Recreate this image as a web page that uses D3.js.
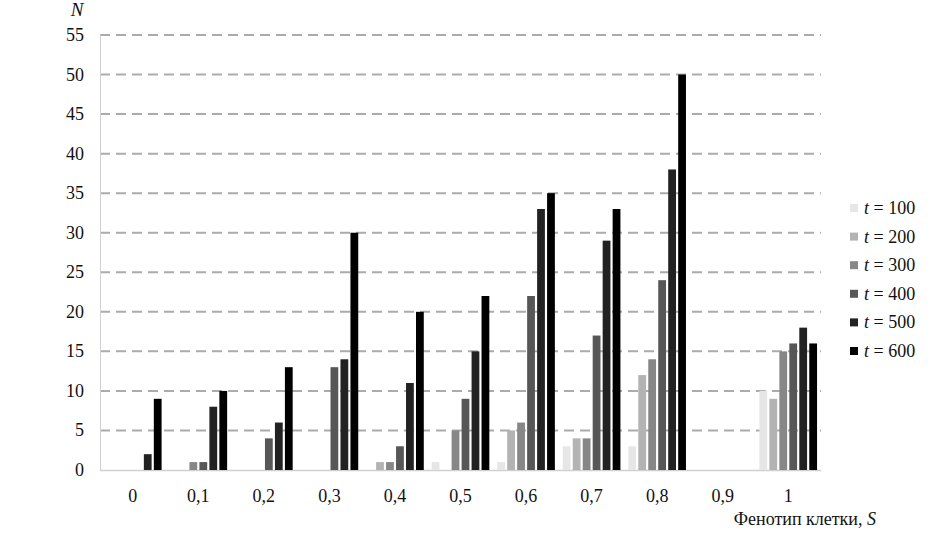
<!DOCTYPE html>
<html><head><meta charset="utf-8">
<script src="https://cdn.jsdelivr.net/npm/d3@7"></script>
</head><body style="margin:0"><svg id="c" width="947" height="536" style="display:block"></svg>
<script>
const categories = ["0","0,1","0,2","0,3","0,4","0,5","0,6","0,7","0,8","0,9","1"];
const seriesNames = ["100","200","300","400","500","600"];
const t100 = [0,0,0,0,0,1,1,3,3,0,10];
const t200 = [0,0,0,0,1,0,5,4,12,0,9];
const t300 = [0,1,0,0,1,5,6,4,14,0,15];
const t400 = [0,1,4,13,3,9,22,17,24,0,16];
const t500 = [2,8,6,14,11,15,33,29,38,0,18];
const t600 = [9,10,13,30,20,22,35,33,50,0,16];
const yTicks = [0,5,10,15,20,25,30,35,40,45,50,55];
const colors = ["#e6e6e6","#b3b3b3","#878787","#575757","#222222","#000000"];
const seriesValues = [t100,t200,t300,t400,t500,t600];
const FONT = "'Liberation Serif'";
const serif = sel => sel.attr("font-family",FONT).style("font-family",FONT,"important");

const svg = d3.select("#c");
serif(svg);
const x0 = d3.scaleBand().domain(categories).range([100,821]).paddingInner(0.09).paddingOuter(0.045);
const x1 = d3.scaleBand().domain(seriesNames).range([0,x0.bandwidth()]).paddingInner(0.22).paddingOuter(0.1);
const y = d3.scaleLinear().domain([0,55]).range([470,35]);

svg.append("g").selectAll("line").data(yTicks.filter(d=>d>0)).join("line")
  .attr("x1",100).attr("x2",821).attr("y1",d=>y(d)).attr("y2",d=>y(d))
  .attr("stroke","#ababab").attr("stroke-width",2).attr("stroke-dasharray","10,6");
svg.append("line").attr("x1",100.5).attr("x2",100.5).attr("y1",y(55)).attr("y2",y(0)).attr("stroke","#d0d0d0").attr("stroke-width",1);
svg.append("line").attr("x1",100).attr("x2",821).attr("y1",y(0)+0.5).attr("y2",y(0)+0.5).attr("stroke","#d0d0d0").attr("stroke-width",1.5);

// y labels
const yl = svg.append("g").selectAll("text").data(yTicks).join("text")
  .attr("x",84).attr("y",d=>y(d)+6).attr("text-anchor","end")
  .attr("font-size",18).attr("fill","#111").text(d=>d);
serif(yl);

// x labels
const xl = svg.append("g").selectAll("text").data(categories).join("text")
  .attr("x",d=>x0(d)+x0.bandwidth()/2).attr("y",502).attr("text-anchor","middle")
  .attr("font-size",18).attr("fill","#111").text(d=>d);
serif(xl);

seriesValues.forEach((vals,si)=>{
  svg.append("g").selectAll("rect").data(vals.map((v,i)=>({v,c:categories[i]}))).join("rect")
    .attr("x",d=>x0(d.c)+x1(seriesNames[si]))
    .attr("width",x1.bandwidth())
    .attr("y",d=>y(d.v)).attr("height",d=>y(0)-y(d.v))
    .attr("fill",colors[si]);
});

const nt = svg.append("text").attr("x",77).attr("y",16).attr("font-size",19)
  .attr("font-style","italic").attr("text-anchor","middle").attr("fill","#111").text("N");
serif(nt);
const xt = svg.append("text").attr("x",876).attr("y",525).attr("font-size",18)
  .attr("text-anchor","end").attr("fill","#111");
serif(xt);
serif(xt.append("tspan").text("Фенотип клетки, "));
serif(xt.append("tspan").attr("font-style","italic").text("S"));

const lg = svg.append("g").selectAll("g").data(seriesNames).join("g")
  .attr("transform",(d,i)=>`translate(850,${208+i*28.6})`);
lg.append("rect").attr("x",0).attr("y",-4).attr("width",8).attr("height",8).attr("fill",(d,i)=>colors[i]);
const lt = lg.append("text").attr("x",14).attr("y",6).attr("font-size",18).attr("fill","#111");
serif(lt);
serif(lt.append("tspan").attr("font-style","italic").text("t"));
serif(lt.append("tspan").text(d=>" = "+d));
</script></body></html>
